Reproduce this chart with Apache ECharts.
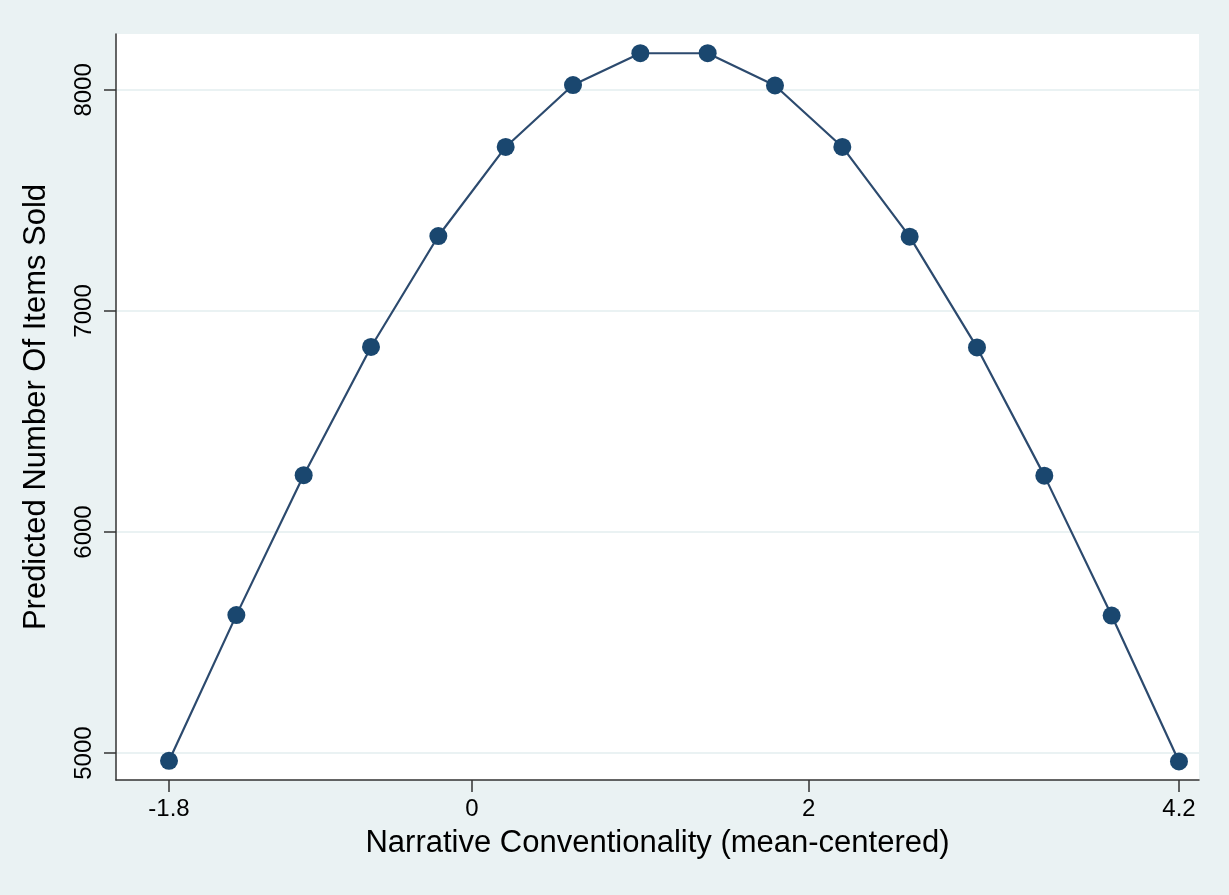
<!DOCTYPE html>
<html>
<head>
<meta charset="utf-8">
<script src="https://cdn.jsdelivr.net/npm/echarts@6/dist/echarts.min.js"></script>
<style>
html,body{margin:0;padding:0;background:#eaf2f3;}
#chart{width:1229px;height:895px;}
</style>
</head>
<body>
<div id="chart"></div>
<script>
const xValues = [-1.8, -1.4, -1.0, -0.6, -0.2, 0.2, 0.6, 1.0, 1.4, 1.8, 2.2, 2.6, 3.0, 3.4, 3.8, 4.2];
const yValues = [4965, 5624, 6257, 6837, 7339, 7742, 8022, 8166, 8166, 8020, 7742, 7336, 6835, 6255, 5622, 4962];
const xTicks = [-1.8, 0, 2, 4.2];
const yTicks = [5000, 6000, 7000, 8000];
const xTitle = 'Narrative Conventionality (mean-centered)';
const yTitle = 'Predicted Number Of Items Sold';

const chart = echarts.init(document.getElementById('chart'));
const font = 'Liberation Sans, Arial, Helvetica, sans-serif';
chart.setOption({
  backgroundColor: '#eaf2f3',
  animation: false,
  grid: {left: 116, top: 34, right: 30, bottom: 115, show: true, backgroundColor: '#ffffff', borderWidth: 0},
  xAxis: {
    type: 'value', min: -2.115, max: 4.319,
    name: xTitle, nameLocation: 'middle', nameGap: 48,
    nameTextStyle: {fontFamily: font, fontSize: 31, color: '#000'},
    axisLine: {show: true, onZero: false, lineStyle: {color: '#333', width: 1.5}},
    axisTick: {show: true, length: 12, customValues: xTicks, lineStyle: {color: '#333', width: 1.5}},
    axisLabel: {customValues: xTicks, fontFamily: font, fontSize: 24, color: '#000', margin: 17,
      formatter: v => String(v)},
    splitLine: {show: false}
  },
  yAxis: {
    type: 'value', min: 4878, max: 8253,
    name: yTitle, nameLocation: 'middle', nameGap: 64,
    nameTextStyle: {fontFamily: font, fontSize: 31, color: '#000'},
    axisLine: {show: true, onZero: false, lineStyle: {color: '#333', width: 1.5}},
    axisTick: {show: true, length: 12, customValues: yTicks, lineStyle: {color: '#333', width: 1.5}},
    axisLabel: {customValues: yTicks, rotate: 90, fontFamily: font, fontSize: 24, color: '#000', margin: 20,
      formatter: v => String(v)},
    splitLine: {show: true, lineStyle: {color: '#eaf2f3', width: 2}}
  },
  series: [{
    type: 'line',
    data: xValues.map((x, i) => [x, yValues[i]]),
    symbol: 'circle', symbolSize: 18,
    lineStyle: {color: '#2c4a6e', width: 2.2},
    itemStyle: {color: '#1a476f'}
  }]
});
</script>
</body>
</html>
